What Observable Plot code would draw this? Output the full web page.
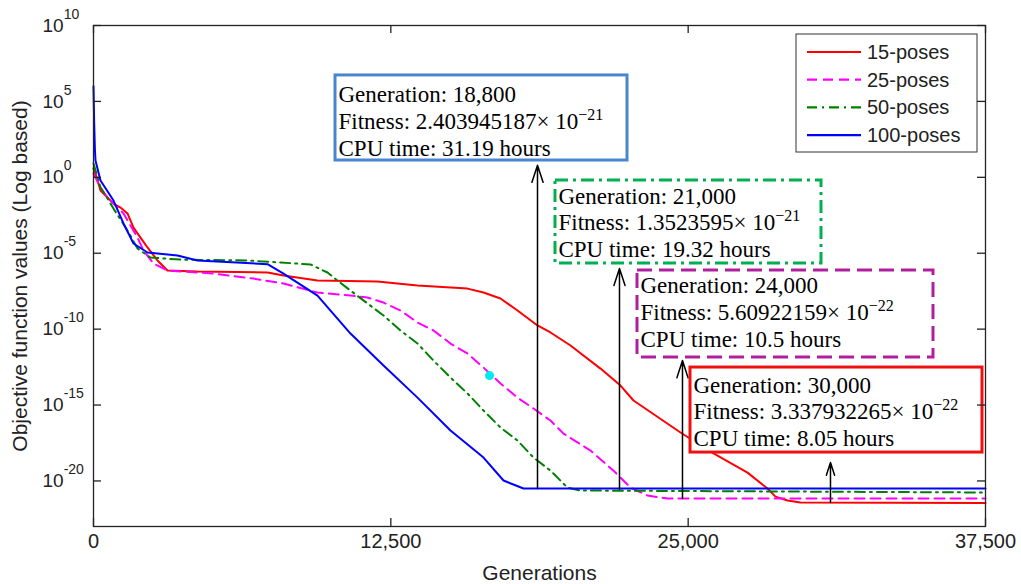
<!DOCTYPE html>
<html><head><meta charset="utf-8">
<script src="https://cdn.jsdelivr.net/npm/d3@7"></script>
<script src="https://cdn.jsdelivr.net/npm/@observablehq/plot@0.6"></script>
<style>
html,body{margin:0;padding:0;background:#fff;}
#chart{width:1021px;height:584px;}
</style></head><body><div id="chart"></div>
<script>
// ---- series (generation, log10 of objective value) ----
const seriesNames = ["15-poses", "25-poses", "50-poses", "100-poses"];
const seriesColors = ["#ff0000", "#ff00ff", "#008000", "#0000ff"];
const seriesDash = [null, "10,6", "10,5,2,5", null];

const gen15 = [0,84,294,589,841,1135,1429,1682,1976,2270,2690,3111,4372,7315,7988,9417,11939,13621,15723,16396,17110,17825,18666,19212,20053,21314,22155,22702,24678,26066,27495,28335,28671,29176,29722,37500];
const log15 = [0.58,0.25,-0.87,-1.33,-1.73,-1.99,-2.38,-3.31,-3.97,-4.62,-5.48,-6.14,-6.21,-6.27,-6.47,-6.80,-6.86,-7.13,-7.33,-7.59,-7.98,-8.77,-9.76,-10.22,-11.08,-12.60,-13.72,-14.70,-16.81,-18.19,-19.45,-20.50,-21.03,-21.29,-21.42,-21.45];

const gen25 = [0,294,589,841,1261,1850,2102,2522,3111,5045,6726,7988,9417,10804,11519,12192,12906,13621,14294,15008,15723,16396,17110,17825,18498,19212,19759,20894,21861,22575,23290,24131,37500];
const log25 = [0.25,-0.67,-1.33,-1.73,-2.38,-3.97,-4.82,-5.68,-6.14,-6.34,-6.67,-7.00,-7.59,-7.79,-7.92,-8.25,-8.77,-9.56,-10.09,-10.95,-11.61,-12.53,-13.58,-14.51,-15.23,-16.02,-16.88,-18.00,-19.32,-20.44,-20.96,-21.16,-21.16];

const gen50 = [0,294,589,841,1429,1850,2396,3657,6474,7861,9123,9837,10258,10804,11519,12192,12906,13621,14294,15008,15723,16396,17110,17825,18498,19212,19927,20473,37500];
const log50 = [0.91,-0.67,-1.40,-2.06,-3.50,-4.69,-5.28,-5.42,-5.48,-5.61,-5.74,-6.27,-6.80,-7.46,-8.31,-9.10,-10.09,-10.95,-12.07,-13.19,-14.24,-15.36,-16.48,-17.34,-18.46,-19.32,-20.44,-20.63,-20.76];

const gen100 = [0,30,60,84,294,841,1261,1682,2270,3531,4372,7315,7988,9417,10804,12192,13621,15008,16396,17237,18078,37500];
const log100 = [6.0,3.5,1.8,1.1,-0.21,-1.53,-3.04,-4.36,-4.95,-5.15,-5.48,-5.72,-6.34,-7.79,-10.29,-12.40,-14.51,-16.68,-18.46,-19.97,-20.50,-20.50];

const markerGen = [16650];
const markerLog = [-13.06];

// ---- axes ----
const xTicks = [0, 12500, 25000, 37500];
const yTickExps = [10, 5, 0, -5, -10, -15, -20];

// ---- annotations ----
const annotGeneration = ["18,800", "21,000", "24,000", "30,000"];
const annotFitness = ["2.403945187", "1.3523595", "5.60922159", "3.337932265"];
const annotExponent = ["\u221221", "\u221221", "\u221222", "\u221222"];
const annotCpu = ["31.19", "19.32", "10.5", "8.05"];
const annotColors = ["#4a86d0", "#00b050", "#b0209e", "#f01010"];
const annotDash = [null, "13,5,3,5", "15,7", null];

// layout in data units: [gen left, gen right, log top, log bottom]
const boxLayout = [
  [10174, 22450, 6.71, 1.107],
  [19422, 30605, -0.21, -5.68],
  [22870, 35314, -6.14, -11.87],
  [25098, 37374, -12.53, -18.13]
];
const textBaseLog = [4.95, -1.73, -7.65, -14.18];
// [gen, log from, log to]
const arrowLayout = [
  [18666, -20.5, 0.8],
  [22113, -20.55, -6.0],
  [24761, -21.16, -12.07],
  [30983, -21.42, -18.79]
];

// ---- build ----
const pts = (g, l) => g.map((d, i) => ({gen: d, value: Math.pow(10, l[i])}));
const series = [pts(gen15, log15), pts(gen25, log25), pts(gen50, log50), pts(gen100, log100)];
const annots = annotGeneration.map((g, i) => ({
  i, g, fit: annotFitness[i], exp: annotExponent[i], cpu: annotCpu[i],
  x1: boxLayout[i][0], x2: boxLayout[i][1],
  y1: Math.pow(10, boxLayout[i][2]), y2: Math.pow(10, boxLayout[i][3]),
  ty: Math.pow(10, textBaseLog[i]),
  ax: arrowLayout[i][0], ay1: Math.pow(10, arrowLayout[i][1]), ay2: Math.pow(10, arrowLayout[i][2])
}));

const W = 1021, H = 584, mL = 93, mR = 36, mT = 25, mB = 58;
const FW = W - mL - mR, FH = H - mT - mB;
const sans = "'Liberation Sans', Arial, sans-serif";
const serif = "'Liberation Serif', 'Times New Roman', serif";

const marks = [];
series.forEach((s, i) => {
  marks.push(Plot.line(s, {x: "gen", y: "value", stroke: seriesColors[i], strokeWidth: 2,
    strokeDasharray: seriesDash[i] || undefined}));
});
marks.push(Plot.dot(markerGen.map((g, i) => ({gen: g, value: Math.pow(10, markerLog[i])})),
  {x: "gen", y: "value", r: 4.5, fill: "#00e8f0", stroke: "none"}));
// arrows
marks.push(Plot.arrow(annots, {x1: "ax", x2: "ax", y1: "ay1", y2: "ay2", stroke: "black",
  strokeWidth: 1.5, headLength: 18, headAngle: 36}));
// boxes
annots.forEach((a, i) => {
  marks.push(Plot.rect([a], {x1: "x1", x2: "x2", y1: "y1", y2: "y2", fill: "white",
    stroke: annotColors[i], strokeWidth: 3, strokeDasharray: annotDash[i] || undefined}));
});
// box texts
const txtOpts = {x: "x1", y: "ty", textAnchor: "start", lineAnchor: "bottom", dx: 3,
  fontFamily: serif, fontSize: 23, fill: "black"};
marks.push(Plot.text(annots, {...txtOpts, text: d => "Generation: " + d.g}));
marks.push(Plot.text(annots, {...txtOpts, dy: 26.7, text: d => "Fitness: " + d.fit + "\u00d7 10"}));
marks.push(Plot.text(annots, {...txtOpts, dy: 53.4, text: d => "CPU time: " + d.cpu + " hours"}));

// frame & inward ticks
marks.push(Plot.frame({stroke: "#222", strokeWidth: 1.3}));
marks.push(Plot.tickX(xTicks, {x: d => d, insetTop: FH - 8, stroke: "#222", strokeWidth: 1.3}));
marks.push(Plot.tickX(xTicks, {x: d => d, insetBottom: FH - 8, stroke: "#222", strokeWidth: 1.3}));
marks.push(Plot.tickY(yTickExps, {y: e => Math.pow(10, e), insetRight: FW - 8, stroke: "#222", strokeWidth: 1.3}));
marks.push(Plot.tickY(yTickExps, {y: e => Math.pow(10, e), insetLeft: FW - 8, stroke: "#222", strokeWidth: 1.3}));
// tick labels
marks.push(Plot.text(xTicks, {x: d => d, frameAnchor: "bottom", lineAnchor: "top", dy: 7,
  text: d => d3.format(",")(d), fontFamily: sans, fontSize: 20, fill: "#222"}));
marks.push(Plot.text(yTickExps, {y: e => Math.pow(10, e), frameAnchor: "left", dx: -51,
  textAnchor: "start", lineAnchor: "middle", text: e => "10^" + e, fontFamily: sans, fontSize: 19, fill: "#222"}));
// axis labels
marks.push(Plot.text(["Generations"], {frameAnchor: "bottom", dy: 47, lineAnchor: "middle",
  text: d => d, fontFamily: sans, fontSize: 21, fill: "#222"}));
marks.push(Plot.text(["Objective function values (Log based)"], {frameAnchor: "left", dx: -73,
  rotate: -90, textAnchor: "middle", lineAnchor: "middle", text: d => d, fontFamily: sans, fontSize: 21, fill: "#222"}));

const chart = Plot.plot({
  width: W, height: H,
  marginLeft: mL, marginRight: mR, marginTop: mT, marginBottom: mB,
  style: {background: "white", fontFamily: sans, overflow: "visible"},
  x: {domain: [0, 37500], axis: null},
  y: {type: "log", domain: [1e-23, 1e10], axis: null},
  marks
});
document.getElementById("chart").appendChild(chart);

const svg = d3.select(chart);
// superscripts
svg.selectAll("text").each(function () {
  const t = this.textContent;
  const m = /^10\^(-?\d+)$/.exec(t);
  if (m) {
    this.textContent = "10";
    const ts = document.createElementNS("http://www.w3.org/2000/svg", "tspan");
    ts.setAttribute("dy", "-13");
    ts.setAttribute("font-size", "14");
    ts.textContent = m[1];
    this.appendChild(ts);
  }
});
const fitTexts = svg.selectAll("text").filter(function () { return /\u00d7 10$/.test(this.textContent); }).nodes();
fitTexts.forEach((node, i) => {
  const ts = document.createElementNS("http://www.w3.org/2000/svg", "tspan");
  ts.setAttribute("dy", "-9");
  ts.setAttribute("font-size", "16");
  ts.textContent = annotExponent[i];
  node.appendChild(ts);
});

// legend
const lg = svg.append("g").attr("font-family", sans).attr("font-size", 20).attr("text-anchor", "start");
lg.append("rect").attr("x", 796).attr("y", 34).attr("width", 181).attr("height", 118)
  .attr("fill", "white").attr("stroke", "#333").attr("stroke-width", 1);
seriesNames.forEach((n, i) => {
  const y = 52 + i * 27.7;
  lg.append("line").attr("x1", 807).attr("x2", 861).attr("y1", y).attr("y2", y)
    .attr("stroke", seriesColors[i]).attr("stroke-width", 2.2)
    .attr("stroke-dasharray", seriesDash[i] || null);
  lg.append("text").attr("x", 867).attr("y", y + 7).attr("text-anchor", "start").attr("fill", "#222").text(n);
});
</script></body></html>
